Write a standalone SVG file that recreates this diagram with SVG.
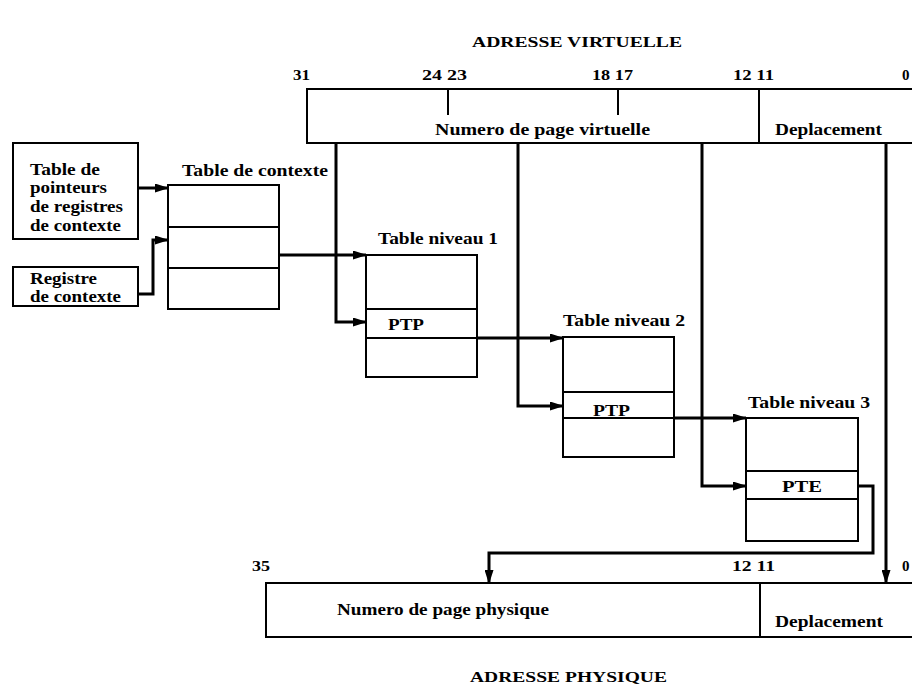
<svg xmlns="http://www.w3.org/2000/svg" width="912" height="686" viewBox="0 0 912 686">
<defs>
<marker id="ah" viewBox="0 0 14 9" refX="13" refY="4.5" markerWidth="14" markerHeight="9" markerUnits="userSpaceOnUse" orient="auto">
<path d="M0,0 L14,4.5 L0,9 Z" fill="#000"/>
</marker>
</defs>
<style>
.t{font-family:"Liberation Serif","Times New Roman",serif;font-weight:bold;fill:#000}
.l{font-size:17px}
.n{font-size:15px}
.h{font-size:15px}
.box{fill:#fff;stroke:#000;stroke-width:2}
.ln{fill:none;stroke:#000;stroke-width:2}
.c{fill:none;stroke:#000;stroke-width:3;marker-end:url(#ah)}
</style>
<rect width="912" height="686" fill="#fff"/>

<g id="virtual-address">
<text class="t h" x="472" y="47" textLength="210" lengthAdjust="spacingAndGlyphs">ADRESSE  VIRTUELLE</text>
<text class="t n" x="293" y="80" textLength="17" lengthAdjust="spacingAndGlyphs">31</text>
<text class="t n" x="422" y="80" textLength="45" lengthAdjust="spacingAndGlyphs">24 23</text>
<text class="t n" x="592" y="80" textLength="41" lengthAdjust="spacingAndGlyphs">18 17</text>
<text class="t n" x="733" y="80" textLength="41" lengthAdjust="spacingAndGlyphs">12 11</text>
<text class="t n" x="902" y="80">0</text>
<rect class="box" x="307" y="89" width="620" height="54"/>
<line class="ln" x1="448" y1="89" x2="448" y2="115"/>
<line class="ln" x1="618" y1="89" x2="618" y2="115"/>
<line class="ln" x1="759" y1="89" x2="759" y2="143"/>
<text class="t l" x="435" y="135" textLength="215" lengthAdjust="spacingAndGlyphs">Numero de page virtuelle</text>
<text class="t l" x="775" y="135" textLength="107" lengthAdjust="spacingAndGlyphs">Deplacement</text>
</g>

<g id="pointer-table">
<rect class="box" x="13" y="143" width="125" height="96"/>
<text class="t l" x="30" y="175" textLength="70" lengthAdjust="spacingAndGlyphs">Table de</text>
<text class="t l" x="30" y="193" textLength="77" lengthAdjust="spacingAndGlyphs">pointeurs</text>
<text class="t l" x="30" y="212" textLength="93" lengthAdjust="spacingAndGlyphs">de registres</text>
<text class="t l" x="30" y="231" textLength="91" lengthAdjust="spacingAndGlyphs">de contexte</text>
</g>

<g id="context-register">
<rect class="box" x="13" y="267" width="125" height="39"/>
<text class="t l" x="30" y="284" textLength="67" lengthAdjust="spacingAndGlyphs">Registre</text>
<text class="t l" x="30" y="302" textLength="91" lengthAdjust="spacingAndGlyphs">de contexte</text>
</g>

<g id="context-table">
<text class="t l" x="182" y="176" textLength="146" lengthAdjust="spacingAndGlyphs">Table de contexte</text>
<rect class="box" x="168" y="185" width="111" height="124"/>
<line class="ln" x1="168" y1="227" x2="279" y2="227"/>
<line class="ln" x1="168" y1="268" x2="279" y2="268"/>
</g>

<g id="table-level-1">
<text class="t l" x="378" y="244" textLength="120" lengthAdjust="spacingAndGlyphs">Table niveau 1</text>
<rect class="box" x="366" y="255" width="111" height="122"/>
<line class="ln" x1="366" y1="309" x2="477" y2="309"/>
<line class="ln" x1="366" y1="338" x2="477" y2="338"/>
<text class="t l" x="388" y="330" textLength="36" lengthAdjust="spacingAndGlyphs">PTP</text>
</g>

<g id="table-level-2">
<text class="t l" x="563" y="326" textLength="122" lengthAdjust="spacingAndGlyphs">Table niveau 2</text>
<rect class="box" x="563" y="337" width="111" height="120"/>
<line class="ln" x1="563" y1="392" x2="674" y2="392"/>
<line class="ln" x1="563" y1="418" x2="674" y2="418"/>
<text class="t l" x="593" y="416" textLength="37" lengthAdjust="spacingAndGlyphs">PTP</text>
</g>

<g id="table-level-3">
<text class="t l" x="748" y="408" textLength="122" lengthAdjust="spacingAndGlyphs">Table niveau 3</text>
<rect class="box" x="746" y="418" width="112" height="123"/>
<line class="ln" x1="746" y1="471" x2="858" y2="471"/>
<line class="ln" x1="746" y1="499" x2="858" y2="499"/>
<text class="t l" x="782" y="492" textLength="40" lengthAdjust="spacingAndGlyphs">PTE</text>
</g>

<g id="physical-address">
<text class="t n" x="252" y="571" textLength="18" lengthAdjust="spacingAndGlyphs">35</text>
<text class="t n" x="732" y="571" textLength="43" lengthAdjust="spacingAndGlyphs">12 11</text>
<text class="t n" x="902" y="571">0</text>
<rect class="box" x="266" y="583" width="660" height="54"/>
<line class="ln" x1="760" y1="583" x2="760" y2="637"/>
<text class="t l" x="337" y="615" textLength="212" lengthAdjust="spacingAndGlyphs">Numero de page physique</text>
<text class="t l" x="775" y="627" textLength="108" lengthAdjust="spacingAndGlyphs">Deplacement</text>
<text class="t h" x="470" y="682" textLength="197" lengthAdjust="spacingAndGlyphs">ADRESSE  PHYSIQUE</text>
</g>

<g id="connectors">
<path class="c" d="M138,188 H168"/>
<path class="c" d="M138,294 H153 V240 H168"/>
<path class="c" d="M279,255 H366"/>
<path class="c" d="M336,143 V322 H366"/>
<path class="c" d="M477,338 H563"/>
<path class="c" d="M518,143 V406 H563"/>
<path class="c" d="M674,418 H746"/>
<path class="c" d="M702,143 V486 H746"/>
<path class="c" d="M858,486 H873 V553 H489 V583"/>
<path class="c" d="M886,143 V583"/>
</g>
</svg>
